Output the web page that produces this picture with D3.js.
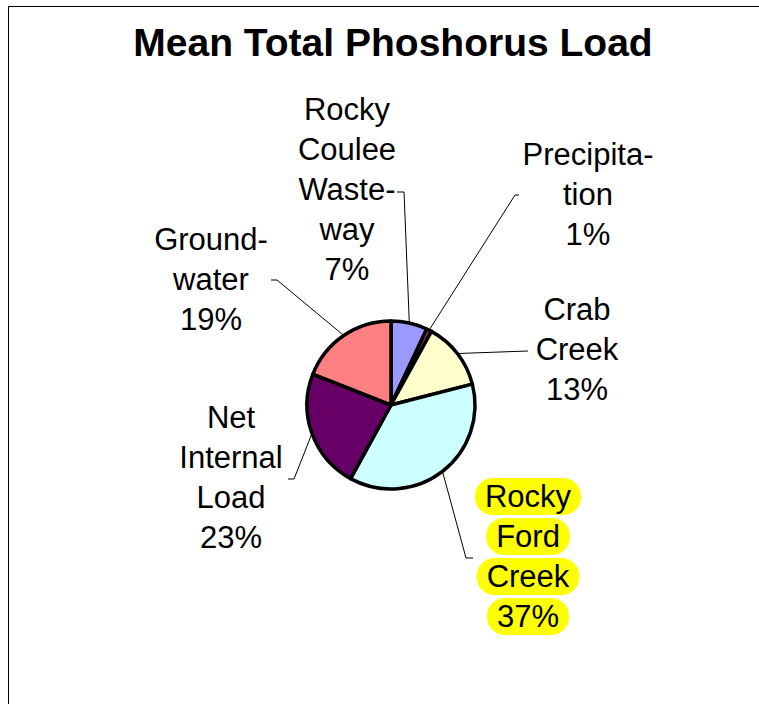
<!DOCTYPE html>
<html>
<head>
<meta charset="utf-8">
<script src="https://cdn.jsdelivr.net/npm/d3@7"></script>
<style>
  body { margin: 0; background: #fff; }
  svg { display: block; }
  text { font-family: "Liberation Sans", Arial, sans-serif; }
</style>
</head>
<body>
<div id="chart"></div>
<script>
// Chart data
const categories = ['Rocky Coulee Wasteway', 'Precipitation', 'Crab Creek', 'Rocky Ford Creek', 'Net Internal Load', 'Groundwater'];
const percents = [7, 1, 13, 37, 23, 19];
const sliceColors = ['#9999FF', '#993366', '#FFFFCC', '#CCFFFF', '#660066', '#FF8080'];
const labelLines = [
    ['Rocky', 'Coulee', 'Waste-', 'way'],
    ['Precipita-', 'tion'],
    ['Crab', 'Creek'],
    ['Rocky', 'Ford', 'Creek'],
    ['Net', 'Internal', 'Load'],
    ['Ground-', 'water']
];
const highlighted = ['Rocky Ford Creek'];

// Label layout (text centre, first baseline, leader end points near text)
const labelLayout = [
    { x: 347, y: 120, leader: [[397, 192], [404, 192]] },
    { x: 588, y: 165, leader: [[519, 195], [515, 195]] },
    { x: 577, y: 320, leader: [[528, 351]] },
    { x: 528, y: 507, leader: [[473, 558], [466, 558]] },
    { x: 231, y: 428, leader: [[288, 479], [294, 479]] },
    { x: 211, y: 250, leader: [[271, 280], [277, 280]] }
];

const W = 759, H = 704;
const cx = 391, cy = 405, radius = 84;
const lineStep = 40;

const svg = d3.select('#chart').append('svg')
    .attr('width', W)
    .attr('height', H);

// frame
svg.append('path')
    .attr('d', `M8.5,${H} L8.5,6.5 L${W},6.5`)
    .attr('fill', 'none')
    .attr('stroke', '#000')
    .attr('stroke-width', 1);

svg.append('text')
    .attr('x', 393)
    .attr('y', 56)
    .attr('text-anchor', 'middle')
    .style('font-size', '39px')
    .style('font-weight', 'bold')
    .text('Mean Total Phoshorus Load');

const slices = categories.map((c, i) => ({ name: c, value: percents[i], color: sliceColors[i], lines: labelLines[i], layout: labelLayout[i] }));

const pie = d3.pie().sort(null).value(d => d.value);
const arcs = pie(slices);
const arc = d3.arc().innerRadius(0).outerRadius(radius);

const g = svg.append('g').attr('transform', `translate(${cx},${cy})`);

g.selectAll('path.slice')
    .data(arcs)
    .enter()
    .append('path')
    .attr('class', 'slice')
    .attr('d', arc)
    .attr('fill', d => d.data.color)
    .attr('stroke', '#000')
    .attr('stroke-width', 3.5)
    .attr('stroke-linejoin', 'round');

// leader lines from slice edge midpoint to the label
arcs.forEach(d => {
    const mid = (d.startAngle + d.endAngle) / 2;
    const px = cx + radius * Math.sin(mid);
    const py = cy - radius * Math.cos(mid);
    const pts = d.data.layout.leader.concat([[px, py]]);
    svg.append('path')
        .attr('d', d3.line()(pts))
        .attr('fill', 'none')
        .attr('stroke', '#000')
        .attr('stroke-width', 1);
});

// labels
arcs.forEach(d => {
    const lay = d.data.layout;
    const lines = d.data.lines.concat([d.data.value + '%']);
    const isHi = highlighted.includes(d.data.name);
    lines.forEach((ln, j) => {
        const by = lay.y + j * lineStep;
        const t = svg.append('text')
            .attr('x', lay.x)
            .attr('y', by)
            .attr('text-anchor', 'middle')
            .style('font-size', '31px')
            .style('fill', '#000')
            .text(ln);
        if (isHi) {
            const w = t.node().getComputedTextLength();
            svg.insert('rect', function() { return t.node(); })
                .attr('x', lay.x - w / 2 - 10)
                .attr('y', by - 29)
                .attr('width', w + 20)
                .attr('height', 37)
                .attr('rx', 18)
                .attr('ry', 18)
                .attr('fill', '#FFFF00');
        }
    });
});
</script>
</body>
</html>
